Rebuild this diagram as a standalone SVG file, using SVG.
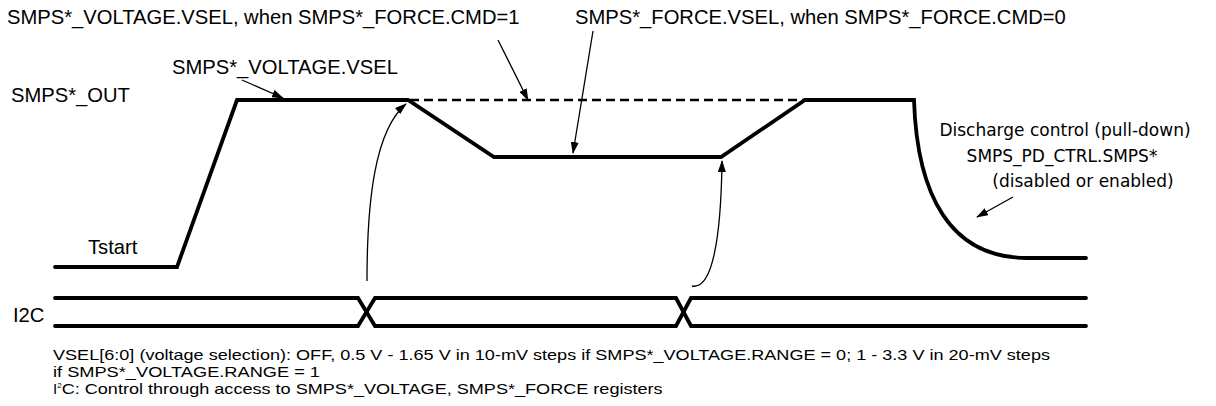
<svg xmlns="http://www.w3.org/2000/svg" width="1216" height="406" viewBox="0 0 1216 406">
<style>
.lbl{font-family:"Liberation Sans",Arial,sans-serif;font-size:20.2px;fill:#000}
.dis{font-family:"DejaVu Sans",Tahoma,sans-serif;font-size:17px;fill:#000}
.note{font-family:"Liberation Sans",Arial,sans-serif;font-size:15px;fill:#000}
.wave{fill:none;stroke:#000;stroke-width:3.8;stroke-linejoin:miter;stroke-linecap:round}
.dash{fill:none;stroke:#000;stroke-width:2.4;stroke-dasharray:9 5}
.arr{fill:none;stroke:#000;stroke-width:1.3;marker-end:url(#ah)}
</style>
<defs>
<marker id="ah" markerWidth="12" markerHeight="8" refX="11" refY="4" orient="auto" markerUnits="userSpaceOnUse">
<path d="M0,0 L12,4 L0,8 Z" fill="#000"/>
</marker>
</defs>
<rect width="1216" height="406" fill="#fff"/>
<g id="smps-out">
<path class="wave" d="M55,267 H177 L237,100 H408 L494,157 H721 L805,100 H914 C917,195 950,258 1027,258 H1086"/>
<path class="dash" d="M410,100 H805"/>
</g>
<g id="i2c">
<path class="wave" d="M55,298 H358 L375,326 H676 L691,298 H1086"/>
<path class="wave" d="M55,326 H358 L375,298 H676 L691,326 H1086" stroke="#222"/>
</g>
<g id="labels">
<text class="lbl" x="7" y="24">SMPS*_VOLTAGE.VSEL, when SMPS*_FORCE.CMD=1</text>
<text class="lbl" x="575" y="24">SMPS*_FORCE.VSEL, when SMPS*_FORCE.CMD=0</text>
<text class="lbl" x="172" y="74" font-size="19.5">SMPS*_VOLTAGE.VSEL</text>
<text class="lbl" x="11" y="101.5" font-size="19.8">SMPS*_OUT</text>
<text class="lbl" x="88" y="254" font-size="18.5">Tstart</text>
<text class="lbl" x="13" y="322" font-size="19.5">I2C</text>
<text class="dis" x="1065" y="136" text-anchor="middle">Discharge control (pull-down)</text>
<text class="dis" x="1062" y="162" text-anchor="middle">SMPS_PD_CTRL.SMPS*</text>
<text class="dis" x="1083" y="187" text-anchor="middle">(disabled or enabled)</text>
<text class="note" x="53" y="360" textLength="997" lengthAdjust="spacingAndGlyphs">VSEL[6:0] (voltage selection): OFF, 0.5 V - 1.65 V in 10-mV steps if SMPS*_VOLTAGE.RANGE = 0; 1 - 3.3 V in 20-mV steps</text>
<text class="note" x="53" y="377" textLength="267" lengthAdjust="spacingAndGlyphs">if SMPS*_VOLTAGE.RANGE = 1</text>
<text class="note" x="53" y="394">I<tspan font-size="8" dy="-6">2</tspan><tspan dy="6" textLength="601" lengthAdjust="spacingAndGlyphs">C: Control through access to SMPS*_VOLTAGE, SMPS*_FORCE registers</tspan></text>
</g>
<g id="connectors">
<path class="arr" d="M242,80 L283,98"/>
<path class="arr" d="M498,40 L528,100"/>
<path class="arr" d="M593,31 L573,153"/>
<path class="arr" d="M367,281 C367,200 375,130 406,104"/>
<path class="arr" d="M692,286 C712,290 721,240 722,161"/>
<path class="arr" d="M1013,197 L977,217"/>
</g>
</svg>
